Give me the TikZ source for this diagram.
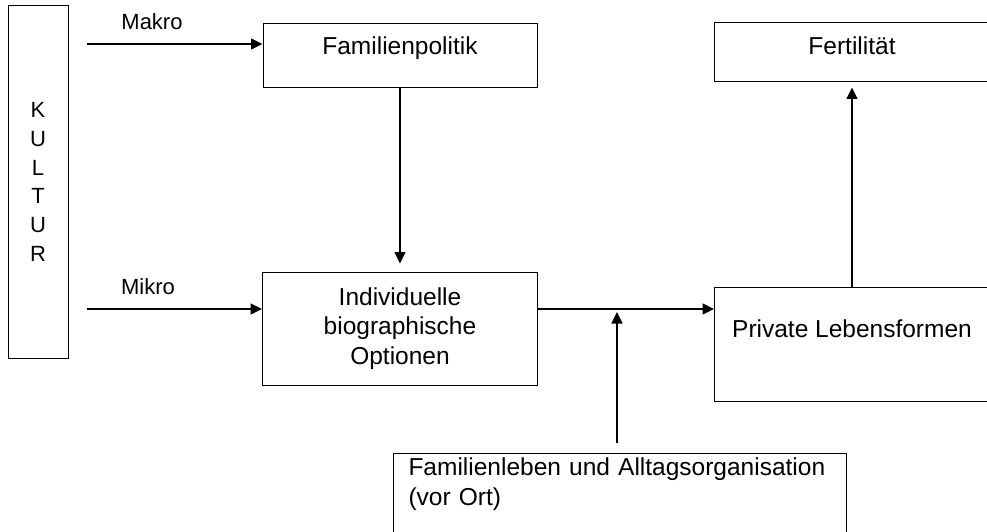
\documentclass[tikz,border=0pt]{standalone}
\usepackage{fontspec}
\setmainfont{Liberation Sans}
\usetikzlibrary{arrows.meta}

\begin{document}
\begin{tikzpicture}[x=1pt,y=-1pt,
    box/.style={draw,line width=1pt,inner sep=0pt,font=\fontsize{24.5}{29.5}\selectfont},
    pfeil/.style={-{Triangle[length=11.5pt,width=11pt]},line width=1.1pt},
    ebene/.style={inner sep=0pt,font=\fontsize{22}{26}\selectfont}]
    \useasboundingbox (0,0) rectangle (987,532);
    \clip (0,0) rectangle (987,532);

    % Kultur links
    \node[box,font=\fontsize{22}{28.7}\selectfont,align=center,minimum width=60pt,minimum height=352pt] (kultur) at (38,182) {K\\U\\L\\T\\U\\R};

    % Makro- und Mikroebene
    \node[ebene] (makro) at (152,22) {Makro};
    \node[ebene] (mikro) at (148,287) {Mikro};
    \coordinate (makroStart) at (87,44);
    \coordinate (mikroStart) at (87,309);

    % Kaesten
    \node[box,minimum width=274pt,text height=31pt,text depth=33pt] (famp) at (400,56) {Familienpolitik};
    \node[box,align=center,minimum width=275pt,minimum height=113pt] (indiv) at (400,328.5) {Individuelle\\biographische\\Optionen};
    \node[box,minimum width=275pt,text height=50pt,text depth=64pt] (priv) at (852,344) {Private Lebensformen};
    \node[box,minimum width=276pt,text height=32pt,text depth=27pt] (fert) at (852,52.5) {Fertilität};
    \node[box,anchor=north west,text width=423pt,align=left,inner xsep=15pt,text height=22pt,text depth=120pt] (fam) at (393,453) {Familienleben und Alltagsorganisation\\(vor Ort)};
    \coordinate (join) at (617,309);

    % Pfeile
    \draw[pfeil] (makroStart) -- (makroStart -| famp.west);
    \draw[pfeil] (mikroStart) -- (mikroStart -| indiv.west);
    \draw[pfeil,shorten >=8pt] (famp) -- (indiv);
    \draw[pfeil] (mikroStart -| indiv.east) -- (mikroStart -| priv.west);
    \draw[pfeil,shorten <=10pt,shorten >=3pt] (fam.north -| join) -- (join);
    \draw[pfeil,shorten >=5pt] (priv) -- (fert);
\end{tikzpicture}
\end{document}
